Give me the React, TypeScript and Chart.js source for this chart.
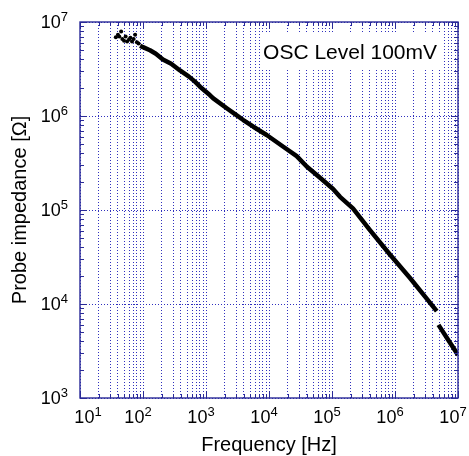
import React, { useEffect, useRef } from 'react';
import { Chart, registerables } from 'chart.js';

Chart.register(...registerables);

// Low-frequency scattered measurement points
const scatterFreq = [37, 40, 42, 45, 47, 50, 53, 56, 60, 63, 67, 71, 75, 80, 85];
const scatterImp = [6.9e6, 7.3e6, 7.0e6, 7.9e6, 6.6e6, 6.3e6, 7.0e6, 6.2e6, 6.5e6, 6.8e6, 6.2e6, 6.6e6, 7.3e6, 6.1e6, 5.9e6];

// Main impedance curve (null = gap in the trace)
const lineFreq = [90, 100, 129, 160, 207, 280, 386, 530, 668, 803, 1150, 1306, 2134, 3000, 3910, 5640, 9180, 16870, 27540, 39650, 64600, 1.04e5, 1.34e5, 2.15e5, 4.0e5, 8.3e5, 1.73e6, 3.0e6, 4.6e6, 4.75e6, 4.9e6, 7.0e6, 1.0e7];
const lineImp = [5.6e6, 5.4e6, 5.0e6, 4.6e6, 4.0e6, 3.6e6, 3.05e6, 2.64e6, 2.32e6, 2.05e6, 1.67e6, 1.54e6, 1.21e6, 1.03e6, 9.06e5, 7.69e5, 6.28e5, 4.71e5, 3.74e5, 2.9e5, 2.2e5, 1.67e5, 1.38e5, 1.04e5, 6.12e4, 3.36e4, 1.89e4, 1.2e4, 8.4e3, null, 6.0e3, 4.15e3, 2.87e3];

// Tick labels (base 10, exponents)
const xTickExponents = ['1', '2', '3', '4', '5', '6', '7'];
const yTickExponents = ['3', '4', '5', '6', '7'];

const annotationText = 'OSC Level 100mV';
const xTitle = 'Frequency [Hz]';
const yTitle = 'Probe impedance [\u03A9]';

const FONT = '"Liberation Sans", Arial, Helvetica, sans-serif';
const AXIS_COLOR = '#2a2a98';
const GRID_COLOR = 'rgb(48,48,190)';

function logTicks(exps: string[]) {
  const e0 = Number(exps[0]);
  const e1 = Number(exps[exps.length - 1]);
  const t: { value: number; major: boolean }[] = [];
  for (let e = e0; e < e1; e++) {
    for (let m = 1; m < 10; m++) t.push({ value: m * Math.pow(10, e), major: m === 1 });
  }
  t.push({ value: Math.pow(10, e1), major: true });
  return t;
}

const overlay = {
  id: 'overlay',
  afterDraw(chart: any) {
    const { ctx, chartArea: a, scales } = chart;
    const xs = scales.x;
    const ys = scales.y;
    ctx.save();

    // annotation with white background
    ctx.font = `21px ${FONT}`;
    const tw = ctx.measureText(annotationText).width;
    const tx = a.right - 21 - tw;
    const tyBase = a.top + 37;
    ctx.fillStyle = '#ffffff';
    ctx.fillRect(tx - 3, a.top + 11, tw + 8, 35);
    ctx.fillStyle = '#000000';
    ctx.textBaseline = 'alphabetic';
    ctx.textAlign = 'left';
    ctx.fillText(annotationText, tx, tyBase);

    // inward tick marks
    ctx.strokeStyle = AXIS_COLOR;
    ctx.lineWidth = 1;
    ctx.setLineDash([]);
    ctx.beginPath();
    for (const t of xs.ticks) {
      const x = Math.round(xs.getPixelForValue(t.value)) + 0.5;
      const len = t.major ? 7 : 4;
      ctx.moveTo(x, a.bottom);
      ctx.lineTo(x, a.bottom - len);
      ctx.moveTo(x, a.top);
      ctx.lineTo(x, a.top + len);
    }
    for (const t of ys.ticks) {
      const y = Math.round(ys.getPixelForValue(t.value)) + 0.5;
      const len = t.major ? 7 : 4;
      ctx.moveTo(a.left, y);
      ctx.lineTo(a.left + len, y);
      ctx.moveTo(a.right, y);
      ctx.lineTo(a.right - len, y);
    }
    ctx.stroke();

    // axes box
    ctx.lineWidth = 1.4;
    ctx.strokeRect(a.left, a.top, a.right - a.left, a.bottom - a.top);

    // tick labels with superscript exponents
    ctx.fillStyle = '#000000';
    const baseFont = `18px ${FONT}`;
    const supFont = `13px ${FONT}`;
    xTickExponents.forEach((e, i) => {
      const v = Math.pow(10, Number(e));
      const x = xs.getPixelForValue(v);
      ctx.font = baseFont;
      const w1 = ctx.measureText('10').width;
      ctx.font = supFont;
      const w2 = ctx.measureText(e).width;
      const shift = i === 0 ? 8 : -5;
      const sx = x - (w1 + w2) / 2 + shift;
      const by = a.bottom + 25;
      ctx.font = baseFont;
      ctx.fillText('10', sx, by);
      ctx.font = supFont;
      ctx.fillText(e, sx + w1, by - 7);
    });
    yTickExponents.forEach((e) => {
      const v = Math.pow(10, Number(e));
      const y = ys.getPixelForValue(v);
      ctx.font = supFont;
      const w2 = ctx.measureText(e).width;
      ctx.font = baseFont;
      const w1 = ctx.measureText('10').width;
      const right = a.left - 12;
      const by = y + 6;
      ctx.fillText('10', right - w2 - w1, by);
      ctx.font = supFont;
      ctx.fillText(e, right - w2, by - 7);
    });
    ctx.restore();
  },
};

export default function App() {
  const ref = useRef<HTMLCanvasElement | null>(null);

  useEffect(() => {
    document.body.style.margin = '0';
    const canvas = ref.current;
    if (!canvas) return;

    const scatterData = scatterFreq.map((f, i) => ({ x: f, y: scatterImp[i] }));
    const lineData = lineFreq.map((f, i) => ({ x: f, y: lineImp[i] }));

    const chart = new Chart(canvas, {
      type: 'line',
      data: {
        datasets: [
          {
            label: 'scatter',
            data: scatterData as any,
            showLine: false,
            pointRadius: 2,
            pointHoverRadius: 0,
            pointBackgroundColor: '#000',
            pointBorderColor: '#000',
            pointBorderWidth: 0,
            borderColor: '#000',
          },
          {
            label: 'impedance',
            data: lineData as any,
            borderColor: '#000',
            borderWidth: 4.5,
            pointRadius: 0,
            tension: 0,
            spanGaps: false,
            borderJoinStyle: 'round',
            borderCapStyle: 'butt',
          },
        ],
      },
      options: {
        animation: false,
        responsive: false,
        devicePixelRatio: 1,
        layout: { padding: { top: 22, right: 11, left: 0, bottom: 0 } },
        plugins: { legend: { display: false }, tooltip: { enabled: false } },
        scales: {
          x: {
            type: 'logarithmic',
            min: Math.pow(10, Number(xTickExponents[0])),
            max: Math.pow(10, Number(xTickExponents[xTickExponents.length - 1])),
            afterBuildTicks: (s: any) => {
              s.ticks = logTicks(xTickExponents);
            },
            afterFit: (s: any) => {
              s.height = 58;
            },
            ticks: { display: false },
            grid: { color: GRID_COLOR, lineWidth: 1, drawTicks: false },
            border: { display: false, dash: [1, 2] },
            title: {
              display: true,
              text: xTitle,
              color: '#000',
              font: { family: FONT, size: 20, lineHeight: 1 },
              padding: { top: 0, bottom: 1 },
            },
          },
          y: {
            type: 'logarithmic',
            min: Math.pow(10, Number(yTickExponents[0])),
            max: Math.pow(10, Number(yTickExponents[yTickExponents.length - 1])),
            afterBuildTicks: (s: any) => {
              s.ticks = logTicks(yTickExponents);
            },
            afterFit: (s: any) => {
              s.width = 80;
            },
            ticks: { display: false },
            grid: {
              color: (c: any) => (c.tick && c.tick.major ? GRID_COLOR : 'rgba(0,0,0,0)'),
              lineWidth: 1,
              drawTicks: false,
            },
            border: { display: false, dash: [1, 2] },
            title: {
              display: true,
              text: yTitle,
              color: '#000',
              font: { family: FONT, size: 20, lineHeight: 1.2 },
              padding: { top: 8, bottom: 0 },
            },
          },
        },
      },
      plugins: [overlay],
    });
    return () => chart.destroy();
  }, []);

  return (
    <div style={{ width: 469, height: 456 }}>
      <canvas ref={ref} width={469} height={456} style={{ display: 'block' }} />
    </div>
  );
}
